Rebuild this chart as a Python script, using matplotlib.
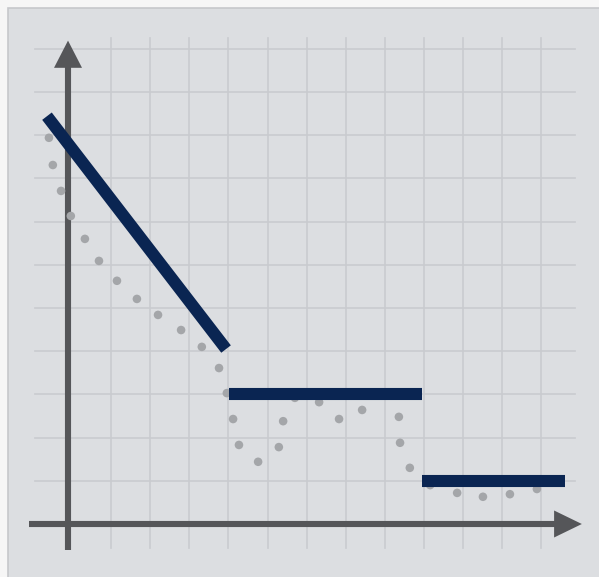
import matplotlib
matplotlib.use("Agg")
import matplotlib.pyplot as plt
from matplotlib.patches import Rectangle, Polygon

# ---- data (grid units) ----
dots_x = [-0.59, -0.49, -0.28, -0.03, 0.33, 0.69, 1.15, 1.66, 2.20, 2.79,
          3.32, 3.76, 3.96, 4.12, 4.27, 4.76, 5.29, 5.40, 5.70, 6.32,
          6.83, 7.42, 8.36, 8.39, 8.64, 9.16, 9.85, 10.51, 11.20, 11.89]
dots_y = [8.94, 8.31, 7.71, 7.13, 6.60, 6.09, 5.63, 5.21, 4.84, 4.49,
          4.10, 3.61, 3.03, 2.43, 1.83, 1.44, 1.78, 2.38, 2.92, 2.82,
          2.43, 2.64, 2.48, 1.88, 1.30, 0.90, 0.72, 0.63, 0.69, 0.81]

trend_x = [-0.64, 3.94]
trend_y = [9.44, 4.05]
step1_x = [4.02, 8.94]
step1_y = [3.0, 3.0]
step2_x = [8.94, 12.61]
step2_y = [1.0, 1.0]

grid_x = list(range(1, 13))
grid_y = list(range(1, 12))

# ---- figure ----
W, H = 599, 577
fig = plt.figure(figsize=(W / 100, H / 100), dpi=100, facecolor="#f6f6f6")
ax = fig.add_axes([0, 0, 1, 1])
ax.set_xlim(-72 / 39.1, (W - 72) / 39.1)
ax.set_ylim((524 - H) / 43.2, 524 / 43.2)
ax.axis("off")

# panel (extends past right and bottom edges)
ax.add_patch(Rectangle((8 / W, -0.1), 1.2, 1.1 - 8 / H, transform=ax.transAxes,
                       facecolor="#dcdee1", edgecolor="#c6c8cb", lw=1.2,
                       zorder=0, clip_on=False))

GRID_C = "#c9cbcf"
for gx in grid_x:
    ax.plot([gx, gx], [-0.556, 11.25], color=GRID_C, lw=1.2, zorder=1)
for gy in grid_y:
    ax.plot([-0.946, 12.86], [gy, gy], color=GRID_C, lw=1.2, zorder=1)

AXC = "#555659"
# x axis
ax.plot([-1.10, 12.4], [0, 0], color=AXC, lw=4.4, solid_capstyle="butt", zorder=2)
ax.add_patch(Polygon([[12.33, 0.3125], [12.33, -0.3125], [13.04, 0]],
                     closed=True, facecolor=AXC, edgecolor="none", zorder=2))
# y axis
ax.plot([-0.102, -0.102], [-0.60, 10.6], color=AXC, lw=4.4, solid_capstyle="butt", zorder=2)
ax.add_patch(Polygon([[-0.102 - 0.358, 10.56], [-0.102 + 0.358, 10.56], [-0.102, 11.19]],
                     closed=True, facecolor=AXC, edgecolor="none", zorder=2))

# dots
ax.scatter(dots_x, dots_y, s=38, color="#a4a6a9", edgecolors="none", zorder=3)

# navy lines
NAVY = "#0a2552"
for xs, ys in [(trend_x, trend_y), (step1_x, step1_y), (step2_x, step2_y)]:
    ax.plot(xs, ys, color=NAVY, lw=8.7, solid_capstyle="butt", zorder=4)

fig.savefig("out.png", dpi=100, facecolor=fig.get_facecolor())
